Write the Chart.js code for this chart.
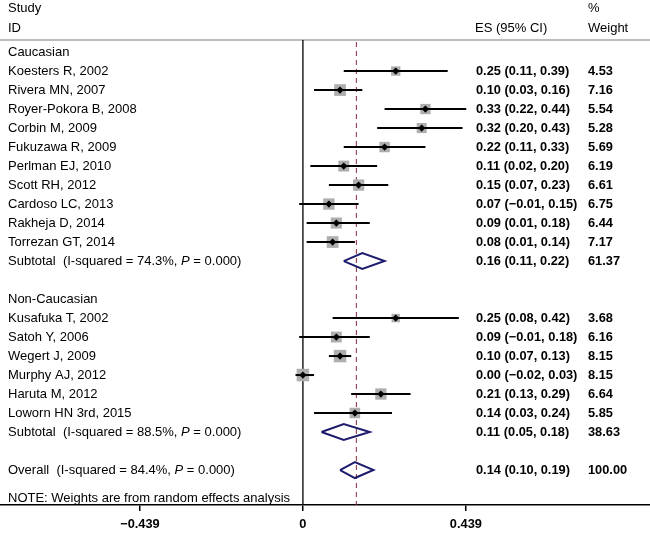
<!DOCTYPE html>
<html>
<head>
<meta charset="utf-8">
<script src="https://cdn.jsdelivr.net/npm/chart.js@4.4.0/dist/chart.umd.min.js"></script>
<style>
  html, body { margin: 0; padding: 0; background: #fff; }
  #wrap { width: 650px; height: 533px; position: relative; }
</style>
</head>
<body>
<div id="wrap"><canvas id="chart"></canvas></div>
<script>
// studies, top to bottom
const studies = [
  "Koesters R, 2002", "Rivera MN, 2007", "Royer-Pokora B, 2008", "Corbin M, 2009",
  "Fukuzawa R, 2009", "Perlman EJ, 2010", "Scott RH, 2012", "Cardoso LC, 2013",
  "Rakheja D, 2014", "Torrezan GT, 2014",
  "Kusafuka T, 2002", "Satoh Y, 2006", "Wegert J, 2009", "Murphy AJ, 2012",
  "Haruta M, 2012", "Loworn HN 3rd, 2015"
];
const studyRows = [1, 2, 3, 4, 5, 6, 7, 8, 9, 10, 14, 15, 16, 17, 18, 19];
const es = [0.25, 0.10, 0.33, 0.32, 0.22, 0.11, 0.15, 0.07, 0.09, 0.08, 0.25, 0.09, 0.10, 0.00, 0.21, 0.14];
const lo = [0.11, 0.03, 0.22, 0.20, 0.11, 0.02, 0.07, -0.01, 0.01, 0.01, 0.08, -0.01, 0.07, -0.02, 0.13, 0.03];
const hi = [0.39, 0.16, 0.44, 0.43, 0.33, 0.20, 0.23, 0.15, 0.18, 0.14, 0.42, 0.18, 0.13, 0.03, 0.29, 0.24];
const weight = [4.53, 7.16, 5.54, 5.28, 5.69, 6.19, 6.61, 6.75, 6.44, 7.17, 3.68, 6.16, 8.15, 8.15, 6.64, 5.85];

// pooled estimates
const poolLabels = ["Subtotal", "Subtotal", "Overall"];
const poolI2 = ["74.3%", "88.5%", "84.4%"];
const poolP = ["0.000", "0.000", "0.000"];
const poolRows = [11, 20, 22];
const poolEs = [0.16, 0.11, 0.14];
const poolLo = [0.11, 0.05, 0.10];
const poolHi = [0.22, 0.18, 0.19];
const poolWeight = ["61.37", "38.63", "100.00"];

const groupLabels = ["Caucasian", "Non-Caucasian"];
const groupRows = [0, 13];

const overallLine = 0.144;
const xTicks = [-0.439, 0, 0.439];

const FONT = "Liberation Sans, Arial, sans-serif";
const X_MIN = -0.816, X_MAX = 0.935;
const Y_MIN = -2.74, Y_MAX = 23.84;
const HEADER_ROW = -0.63;

function fmt(v) {
  const s = Math.abs(v).toFixed(2);
  return (v < 0 ? "\u2212" : "") + s;
}

const datasets = [];

// point estimate markers
datasets.push({
  type: "scatter", order: 0,
  data: studyRows.map((r, i) => ({ x: es[i], y: r })),
  pointStyle: "rectRot", pointRadius: 3.6, backgroundColor: "#000", borderWidth: 0
});

// confidence intervals
studyRows.forEach((r, i) => {
  datasets.push({
    type: "line", order: 1,
    data: [{ x: lo[i], y: r }, { x: hi[i], y: r }],
    borderColor: "#000", borderWidth: 2, pointRadius: 0
  });
});

// weight boxes
datasets.push({
  type: "scatter", order: 2,
  data: studyRows.map((r, i) => ({ x: es[i], y: r })),
  pointStyle: "rect",
  pointRadius: weight.map(w => 12.5 * Math.sqrt(w / 8.15) / Math.SQRT2),
  backgroundColor: "#aeaeae", borderWidth: 0
});

// diamonds
poolRows.forEach((r, i) => {
  datasets.push({
    type: "line", order: 1,
    data: [
      { x: poolLo[i], y: r }, { x: poolEs[i], y: r - 0.42 },
      { x: poolHi[i], y: r }, { x: poolEs[i], y: r + 0.42 },
      { x: poolLo[i], y: r }
    ],
    borderColor: "#1c1c6e", borderWidth: 2, pointRadius: 0, tension: 0
  });
});

// null line and overall line
datasets.push({
  type: "line", order: 3,
  data: [{ x: 0, y: HEADER_ROW }, { x: 0, y: Y_MAX }],
  borderColor: "#000", borderWidth: 1.3, pointRadius: 0
});
datasets.push({
  type: "line", order: 3,
  data: [{ x: overallLine, y: HEADER_ROW + 0.1 }, { x: overallLine, y: Y_MAX }],
  borderColor: "#8a2a3a", borderWidth: 1, borderDash: [5, 4], pointRadius: 0
});
// header rule
datasets.push({
  type: "line", order: 3,
  data: [{ x: X_MIN, y: HEADER_ROW }, { x: X_MAX, y: HEADER_ROW }],
  borderColor: "#bdbdbd", borderWidth: 2, pointRadius: 0
});

const textPlugin = {
  id: "forestText",
  afterDraw(chart) {
    const ctx = chart.ctx;
    const y = chart.scales.y;
    const LX = 8, ESX = 476, WX = 588;
    ctx.save();
    ctx.fillStyle = "#000";
    ctx.textBaseline = "middle";
    ctx.textAlign = "left";
    const normal = "13px " + FONT;
    const bold = "bold 12.8px " + FONT;
    const italic = "italic 13px " + FONT;

    ctx.font = normal;
    ctx.fillText("Study", LX, y.getPixelForValue(-2.32));
    ctx.fillText("ID", LX, y.getPixelForValue(-1.27));
    ctx.fillText("ES (95% CI)", ESX - 1, y.getPixelForValue(-1.27));
    ctx.fillText("%", WX, y.getPixelForValue(-2.32));
    ctx.fillText("Weight", WX, y.getPixelForValue(-1.27));

    groupLabels.forEach((g, i) => ctx.fillText(g, LX, y.getPixelForValue(groupRows[i])));

    studies.forEach((s, i) => {
      const py = y.getPixelForValue(studyRows[i]);
      ctx.font = normal;
      ctx.fillText(s, LX, py);
      ctx.font = bold;
      ctx.fillText(fmt(es[i]) + " (" + fmt(lo[i]) + ", " + fmt(hi[i]) + ")", ESX, py);
      ctx.fillText(weight[i].toFixed(2), WX, py);
    });

    poolRows.forEach((r, i) => {
      const py = y.getPixelForValue(r);
      let x = LX;
      ctx.font = normal;
      const a = poolLabels[i] + "  (I-squared = " + poolI2[i] + ", ";
      ctx.fillText(a, x, py); x += ctx.measureText(a).width;
      ctx.font = italic;
      ctx.fillText("P", x, py); x += ctx.measureText("P").width;
      ctx.font = normal;
      ctx.fillText(" = " + poolP[i] + ")", x, py);
      ctx.font = bold;
      ctx.fillText(fmt(poolEs[i]) + " (" + fmt(poolLo[i]) + ", " + fmt(poolHi[i]) + ")", ESX, py);
      ctx.fillText(poolWeight[i], WX, py);
    });

    ctx.font = normal;
    ctx.fillText("NOTE: Weights are from random effects analysis", LX, y.getPixelForValue(23.47));
    ctx.restore();
  }
};

new Chart(document.getElementById("chart"), {
  type: "scatter",
  data: { datasets },
  options: {
    responsive: true,
    maintainAspectRatio: false,
    animation: false,
    events: [],
    layout: { padding: 0, autoPadding: false },
    plugins: { legend: { display: false }, tooltip: { enabled: false } },
    scales: {
      x: {
        type: "linear", min: X_MIN, max: X_MAX,
        afterBuildTicks: axis => { axis.ticks = xTicks.map(v => ({ value: v })); },
        afterFit: axis => { axis.paddingLeft = 0; axis.paddingRight = 0; axis.height = 28; },
        border: { display: true, color: "#000", width: 1.5 },
        grid: { drawOnChartArea: false, drawTicks: true, tickLength: 6, color: "#000", lineWidth: 1.5 },
        ticks: {
          color: "#000", padding: 6, maxRotation: 0, autoSkip: false,
          font: { family: FONT, size: 12.8, weight: "bold" },
          callback: v => (v < 0 ? "\u2212" : "") + Math.abs(v).toFixed(3).replace(/^0\.000$/, "0")
        }
      },
      y: {
        type: "linear", reverse: true, min: Y_MIN, max: Y_MAX, display: false
      }
    }
  },
  plugins: [textPlugin]
});
</script>
</body>
</html>
